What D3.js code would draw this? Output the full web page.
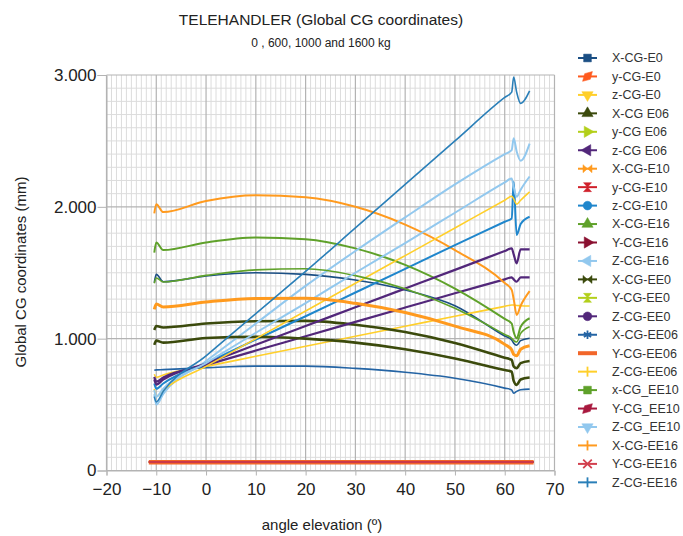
<!DOCTYPE html>
<html>
<head>
<meta charset="utf-8">
<script src="https://cdn.jsdelivr.net/npm/d3@7"></script>
<style>
	body { margin: 0; background: #fff; font-family: "Liberation Sans", Arial, sans-serif; }
	.axis-label { font-size: 15px; fill: #222; }
	.tick-label { font-size: 17px; fill: #222; }
	.legend-label { font-size: 12.5px; fill: #333; }
</style>
</head>
<body>
<div id="chart"></div>
<script>
// angle elevation (deg) at which every CG curve was sampled
const angles = [-10.4, -10, -8.6, 0, 10, 20, 30, 40, 50, 60, 61.4, 61.8, 62.4, 63.2, 65];
// the lateral (y) curves are flat and run a bit wider
const yAngles = [-11.5, 0, 20, 40, 60, 65.8];

// X coordinate of CG (arcs)
const xE0 = [1425, 1488, 1432, 1475, 1500, 1488, 1445, 1370, 1250, 1020, 990, 965, 950, 985, 1003];
const xE06 = [1066, 1096, 1085, 1115, 1132, 1135, 1105, 1050, 967, 855, 839, 790, 776, 815, 831];
const xE10 = [1950, 2020, 1960, 2045, 2088, 2072, 2000, 1865, 1672, 1422, 1370, 1300, 1180, 1250, 1360];
const xE16 = [1652, 1730, 1672, 1730, 1768, 1755, 1685, 1560, 1380, 1150, 1115, 1050, 1003, 1090, 1155];
const xEE0 = [952, 985, 970, 1005, 1015, 1000, 970, 920, 850, 762, 750, 680, 649, 690, 705];
const xEE06 = [760, 763, 765, 780, 792, 792, 775, 745, 700, 625, 611, 586, 600, 612, 617];
const xEE10 = [1420, 1460, 1430, 1480, 1522, 1530, 1478, 1378, 1230, 1032, 1003, 985, 975, 1040, 1091];
const xEE16 = [1222, 1263, 1240, 1278, 1305, 1306, 1268, 1198, 1095, 957, 915, 880, 870, 920, 947];

// Z coordinate of CG (rising lines)
const zE0 = [730, 707, 725, 790, 866, 942, 1018, 1094, 1170, 1245, 1255, 1255, 1252, 1250, 1248];
const zE06 = [710, 674, 705, 800, 910, 1018, 1127, 1236, 1345, 1450, 1465, 1450, 1432, 1465, 1465];
const zE10 = [660, 620, 660, 815, 993, 1170, 1350, 1530, 1710, 1887, 1912, 2190, 1786, 1870, 1925];
const zE16 = [580, 500, 580, 830, 1115, 1400, 1665, 1920, 2170, 2400, 2430, 2520, 2420, 2350, 2480];
const zEE0 = [690, 652, 690, 812, 954, 1096, 1238, 1380, 1522, 1665, 1685, 1640, 1571, 1677, 1677];
const zEE06 = [620, 561, 610, 790, 1000, 1210, 1420, 1630, 1840, 2050, 2080, 2060, 2020, 2050, 2113];
const zEE10 = [610, 560, 620, 815, 1045, 1270, 1500, 1725, 1955, 2185, 2215, 2150, 2076, 2130, 2230];
const zEE16 = [560, 520, 600, 870, 1190, 1510, 1840, 2170, 2500, 2830, 2870, 2985, 2870, 2785, 2880];

// Y coordinate of CG (flat, near zero)
const yE0 = [64, 64, 64, 64, 64, 64];
const yE06 = [63, 63, 63, 63, 63, 63];
const yE10 = [65, 65, 65, 65, 65, 65];
const yE16 = [66, 66, 66, 66, 66, 66];
const yEE0 = [63, 63, 63, 63, 63, 63];
const yEE06 = [62, 62, 62, 62, 62, 62];
const yEE10 = [64, 64, 64, 64, 64, 64];
const yEE16 = [65, 65, 65, 65, 65, 65];

const xTicks = [-20, -10, 0, 10, 20, 30, 40, 50, 60, 70];
const yTicks = [0, 1000, 2000, 3000];

// series in legend order: [name, values, angle set]
const series = [
	['X-CG-E0', xE0, angles], ['y-CG-E0', yE0, yAngles], ['z-CG-E0', zE0, angles],
	['X-CG E06', xE06, angles], ['y-CG E06', yE06, yAngles], ['z-CG E06', zE06, angles],
	['X-CG-E10', xE10, angles], ['y-CG-E10', yE10, yAngles], ['z-CG-E10', zE10, angles],
	['X-CG-E16', xE16, angles], ['Y-CG-E16', yE16, yAngles], ['Z-CG-E16', zE16, angles],
	['X-CG-EE0', xEE0, angles], ['Y-CG-EE0', yEE0, yAngles], ['Z-CG-EE0', zEE0, angles],
	['X-CG-EE06', xEE06, angles], ['Y-CG-EE06', yEE06, yAngles], ['Z-CG-EE06', zEE06, angles],
	['x-CG_EE10', xEE10, angles], ['Y-CG_EE10', yEE10, yAngles], ['Z-CG_EE10', zEE10, angles],
	['X-CG-EE16', xEE16, angles], ['Y-CG-EE16', yEE16, yAngles], ['Z-CG-EE16', zEE16, angles],
].map(([name, values, xs]) => ({ name, points: values.map((v, i) => ({ a: xs[i], v })) }));

// styles: colour, line width, legend marker
const styles = {
	'X-CG-E0': ['#1b4f84', 1.6, 'square'],
	'y-CG-E0': ['#ff5a1e', 1.6, 'diamond'],
	'z-CG-E0': ['#ffcf2a', 1.6, 'triDown'],
	'X-CG E06': ['#3b4a0c', 2.6, 'triUp'],
	'y-CG E06': ['#b3cf1a', 1.6, 'triRight'],
	'z-CG E06': ['#52277a', 2.2, 'triLeft'],
	'X-CG-E10': ['#ff9a1e', 2, 'bowtie'],
	'y-CG-E10': ['#d0202a', 1.6, 'hourglass'],
	'z-CG-E10': ['#1f86cc', 2, 'circle'],
	'X-CG-E16': ['#5fa12a', 2, 'triUp'],
	'Y-CG-E16': ['#8a1030', 1.6, 'triRight'],
	'Z-CG-E16': ['#92c8ee', 2, 'triLeft'],
	'X-CG-EE0': ['#3b4a0c', 2.6, 'bowtie'],
	'Y-CG-EE0': ['#b3cf1a', 1.6, 'hourglass'],
	'Z-CG-EE0': ['#52277a', 2.2, 'circle'],
	'X-CG-EE06': ['#2464a4', 1.6, 'star'],
	'Y-CG-EE06': ['#f2662a', 4.5, 'none'],
	'Z-CG-EE06': ['#ffcf2a', 1.6, 'plus'],
	'x-CG_EE10': ['#5fa12a', 1.6, 'square'],
	'Y-CG_EE10': ['#a8183e', 1.6, 'diamond'],
	'Z-CG_EE10': ['#92c8ee', 2, 'triDown'],
	'X-CG-EE16': ['#ff9a1e', 3, 'plus'],
	'Y-CG-EE16': ['#d2404e', 1.6, 'cross'],
	'Z-CG-EE16': ['#2a7fb8', 1.6, 'plus'],
};

const W = 683;
const H = 536;
const plot = { left: 106.5, right: 554.5, top: 75, bottom: 470.5 };

const svg = d3.select('#chart').append('svg')
	.attr('width', W)
	.attr('height', H);

const x = d3.scaleLinear().domain([-20, 70]).range([plot.left, plot.right]);
const y = d3.scaleLinear().domain([0, 3000]).range([plot.bottom, plot.top]);

const locale = d3.formatLocale({ decimal: ',', thousands: '.', grouping: [3], currency: ['', ''] });
const fmt = locale.format(',');

// titles
svg.append('text')
	.attr('x', 321).attr('y', 25)
	.attr('text-anchor', 'middle')
	.style('font-size', '15.5px').style('fill', '#222')
	.text('TELEHANDLER (Global CG coordinates)');
svg.append('text')
	.attr('x', 321).attr('y', 47)
	.attr('text-anchor', 'middle')
	.style('font-size', '12px').style('fill', '#222')
	.text('0 , 600, 1000 and 1600 kg');

// grid
const grid = svg.append('g');
grid.selectAll('.vminor')
	.data(d3.range(-20, 71, 1).filter(v => v % 10 !== 0))
	.enter().append('line')
		.attr('x1', d => x(d)).attr('x2', d => x(d))
		.attr('y1', plot.top).attr('y2', plot.bottom)
		.style('stroke', '#dcdcdc').style('stroke-width', 1);
grid.selectAll('.hminor')
	.data(d3.range(0, 3001, 100).filter(v => v % 1000 !== 0))
	.enter().append('line')
		.attr('x1', plot.left).attr('x2', plot.right)
		.attr('y1', d => y(d)).attr('y2', d => y(d))
		.style('stroke', '#dcdcdc').style('stroke-width', 1);
grid.selectAll('.vmajor')
	.data(xTicks)
	.enter().append('line')
		.attr('x1', d => x(d)).attr('x2', d => x(d))
		.attr('y1', plot.top).attr('y2', plot.bottom)
		.style('stroke', '#b3b3b3').style('stroke-width', 1.2);
grid.selectAll('.hmajor')
	.data(yTicks)
	.enter().append('line')
		.attr('x1', plot.left).attr('x2', plot.right)
		.attr('y1', d => y(d)).attr('y2', d => y(d))
		.style('stroke', '#b3b3b3').style('stroke-width', 1.2);

// axes
const xAxis = d3.axisBottom(x).tickValues(xTicks).tickSize(5).tickPadding(7);
const yAxis = d3.axisLeft(y).tickValues(yTicks).tickSize(9).tickPadding(1).tickFormat(fmt);
const gx = svg.append('g')
	.attr('transform', `translate(0, ${plot.bottom})`)
	.call(xAxis);
const gy = svg.append('g')
	.attr('transform', `translate(${plot.left}, 0)`)
	.call(yAxis);
[gx, gy].forEach((g) => {
	g.select('.domain').style('stroke', '#b3b3b3');
	g.selectAll('.tick line').style('stroke', '#b3b3b3');
	g.selectAll('.tick text').attr('class', 'tick-label').style('font-family', 'Liberation Sans, Arial, sans-serif');
});

// series lines
const line = d3.line()
	.x(d => x(d.a))
	.y(d => y(d.v))
	.curve(d3.curveMonotoneX);
svg.append('g').selectAll('path')
	.data(series)
	.enter().append('path')
		.attr('d', d => line(d.points))
		.style('fill', 'none')
		.style('stroke', d => styles[d.name][0])
		.style('stroke-width', d => styles[d.name][1])
		.style('stroke-linejoin', 'round');

// axis labels
svg.append('text')
	.attr('class', 'axis-label')
	.attr('x', 322).attr('y', 530)
	.attr('text-anchor', 'middle')
	.text('angle elevation (º)');
svg.append('text')
	.attr('class', 'axis-label')
	.attr('transform', 'translate(26, 272) rotate(-90)')
	.attr('text-anchor', 'middle')
	.text('Global CG coordinates (mm)');

// legend markers
const markerPath = (type) => {
	const tri = d3.symbol(d3.symbolTriangle, 55)();
	switch (type) {
		case 'square': return { d: d3.symbol(d3.symbolSquare, 60)(), r: 0 };
		case 'diamond': return { d: d3.symbol(d3.symbolDiamond, 55)(), r: 45 };
		case 'circle': return { d: d3.symbol(d3.symbolCircle, 60)(), r: 0 };
		case 'triUp': return { d: tri, r: 0 };
		case 'triDown': return { d: tri, r: 180 };
		case 'triRight': return { d: tri, r: 90 };
		case 'triLeft': return { d: tri, r: -90 };
		case 'bowtie': return { d: 'M-4.5,-4L0,0L-4.5,4ZM4.5,-4L0,0L4.5,4Z', r: 0 };
		case 'hourglass': return { d: 'M-4,-4.5L0,0L4,-4.5ZM-4,4.5L0,0L4,4.5Z', r: 0 };
		case 'star': return { d: d3.symbol(d3.symbolAsterisk, 50)(), r: 0 };
		case 'plus': return { d: 'M0,-5L0,5', r: 0 };
		case 'cross': return { d: d3.symbol(d3.symbolX, 50)(), r: 0 };
		default: return null;
	}
};

const legendTop = 58;
const rowGap = 18.45;
const legend = svg.append('g');
const rows = legend.selectAll('g')
	.data(series)
	.enter().append('g')
		.attr('transform', (d, i) => `translate(578, ${legendTop + rowGap * i})`);
rows.append('line')
	.attr('x1', 0).attr('x2', 19)
	.style('stroke', d => styles[d.name][0])
	.style('stroke-width', d => (d.name === 'Y-CG-EE06' ? 4 : 2));
rows.each(function addMarker(d) {
	const m = markerPath(styles[d.name][2]);
	if (!m) return;
	const open = ['star', 'plus', 'cross'].includes(styles[d.name][2]);
	d3.select(this).append('path')
		.attr('d', m.d)
		.attr('transform', `translate(9.5, 0) rotate(${m.r})`)
		.style('fill', open ? 'none' : styles[d.name][0])
		.style('stroke', styles[d.name][0])
		.style('stroke-width', open ? 1.8 : 0.5);
});
rows.append('text')
	.attr('class', 'legend-label')
	.attr('x', 34)
	.attr('dy', '.35em')
	.text(d => d.name);
</script>
</body>
</html>
